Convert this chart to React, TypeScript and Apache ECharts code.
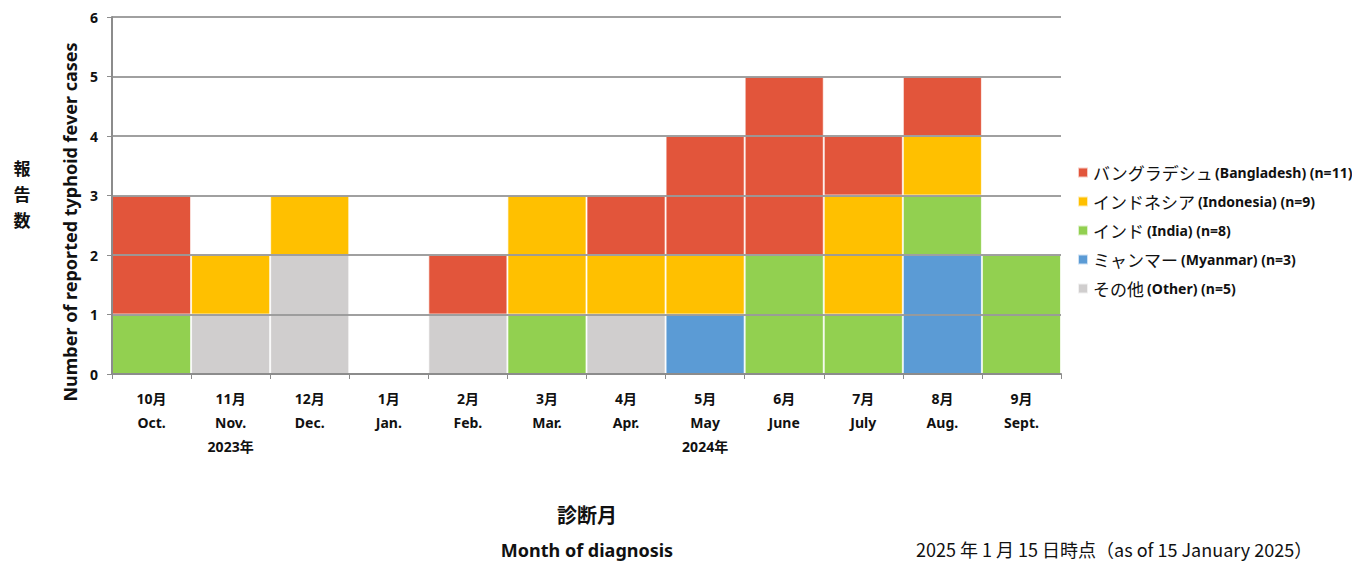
import React, { useEffect, useRef } from "react";
import * as echarts from "echarts";

const monthsJa = ["10月", "11月", "12月", "1月", "2月", "3月", "4月", "5月", "6月", "7月", "8月", "9月"];
const monthsEn = ["Oct.", "Nov.", "Dec.", "Jan.", "Feb.", "Mar.", "Apr.", "May", "June", "July", "Aug.", "Sept."];
const yearLabels = ["", "2023年", "", "", "", "", "", "2024年", "", "", "", ""];

const other = [0, 1, 2, 0, 1, 0, 1, 0, 0, 0, 0, 0];
const myanmar = [0, 0, 0, 0, 0, 0, 0, 1, 0, 0, 2, 0];
const india = [1, 0, 0, 0, 0, 1, 0, 0, 2, 1, 1, 2];
const indonesia = [0, 1, 1, 0, 0, 2, 1, 1, 0, 2, 1, 0];
const bangladesh = [2, 0, 0, 0, 1, 0, 1, 2, 3, 1, 1, 0];

const seriesDefs = [
  { ja: "その他", en: "(Other) (n=5)", data: other, color: "#D0CECE" },
  { ja: "ミャンマー", en: "(Myanmar) (n=3)", data: myanmar, color: "#5B9BD5" },
  { ja: "インド", en: "(India) (n=8)", data: india, color: "#92D050" },
  { ja: "インドネシア", en: "(Indonesia) (n=9)", data: indonesia, color: "#FFC000" },
  { ja: "バングラデシュ", en: "(Bangladesh) (n=11)", data: bangladesh, color: "#E2553B" },
];

const yTicks = [1, 2, 3, 4, 5, 6];
const yTitleJa = ["報", "告", "数"];

export default function App() {
  const ref = useRef<HTMLDivElement>(null);
  useEffect(() => {
    if (!ref.current) return;
    const chart = echarts.init(ref.current, null, { renderer: "svg" });
    const font = "'Noto Sans', 'Noto Sans CJK JP', sans-serif";
    const jpFont = "'Noto Sans CJK JP', sans-serif";
    const categories = monthsJa.map((m, i) => m + "\n" + monthsEn[i] + "\n" + yearLabels[i]);
    const nameMap: Record<string, { ja: string; en: string }> = {};
    seriesDefs.forEach((s) => (nameMap[s.ja + " " + s.en] = s));
    chart.setOption({
      animation: false,
      textStyle: { fontFamily: font },
      grid: { left: 112, right: 291, top: 17, bottom: 188, containLabel: false },
      legend: {
        orient: "vertical",
        left: 1072,
        top: 159,
        itemWidth: 10,
        itemHeight: 10,
        itemGap: 12,
        icon: "rect",
        data: seriesDefs.map((s) => s.ja + " " + s.en).reverse(),
        formatter: (name: string) => {
          const s = nameMap[name];
          return "{ja|" + s.ja + "} {en|" + s.en + "}";
        },
        textStyle: {
          rich: {
            ja: { fontSize: 17, color: "#111", fontFamily: jpFont, height: 19 },
            en: { fontSize: 14, fontWeight: "bold", color: "#111", fontFamily: font },
          },
        },
      },
      xAxis: {
        type: "category",
        data: categories,
        z: 5,
        axisLine: { lineStyle: { color: "#8c8c8c", width: 2 } },
        axisTick: { show: true, alignWithLabel: false, length: 5, lineStyle: { color: "#8c8c8c" } },
        axisLabel: {
          interval: 0,
          color: "#111",
          fontWeight: "bold",
          fontSize: 14,
          lineHeight: 24,
          margin: 12,
          fontFamily: font,
        },
      },
      yAxis: {
        type: "value",
        min: 0,
        max: 6,
        interval: 1,
        z: 5,
        axisLine: { show: true, lineStyle: { color: "#8c8c8c", width: 2 } },
        axisTick: { show: true, length: 5, lineStyle: { color: "#8c8c8c" } },
        splitLine: { show: true, lineStyle: { color: "#9a9a9a", width: 1.5 } },
        axisLabel: { color: "#111", fontWeight: "bold", fontSize: 14, margin: 14, fontFamily: font },
      },
      series: seriesDefs.map((s, idx) => ({
        name: s.ja + " " + s.en,
        type: "bar",
        stack: "total",
        data: s.data.map((v) => (v === 0 ? null : v)),
        barCategoryGap: "0%",
        itemStyle: { color: s.color, borderColor: "rgba(255,255,255,0.7)", borderWidth: 1 },
        markLine:
          idx === seriesDefs.length - 1
            ? {
                silent: true,
                symbol: "none",
                label: { show: false },
                lineStyle: { color: "#9a9a9a", width: 1.5, type: "solid" },
                data: yTicks.map((t) => ({ yAxis: t })),
              }
            : undefined,
      })),
      graphic: [
        ...yTitleJa.map((ch, i) => ({
          type: "text",
          x: 22,
          y: 167 + i * 26,
          style: {
            text: ch,
            fontSize: 17,
            lineHeight: 19,
            fontWeight: "bold",
            fill: "#111",
            fontFamily: jpFont,
            align: "center",
            verticalAlign: "middle",
          },
        })),
        {
          type: "text",
          x: 70,
          y: 222,
          rotation: Math.PI / 2,
          style: {
            text: "Number of reported typhoid fever cases",
            fontSize: 18,
            fontWeight: "bold",
            fill: "#111",
            fontFamily: font,
            align: "center",
            verticalAlign: "middle",
          },
        },
        {
          type: "text",
          x: 587,
          y: 514,
          style: {
            text: "診断月",
            fontSize: 20,
            fontWeight: "bold",
            fill: "#111",
            fontFamily: jpFont,
            align: "center",
            verticalAlign: "middle",
          },
        },
        {
          type: "text",
          x: 587,
          y: 550,
          style: {
            text: "Month of diagnosis",
            fontSize: 18,
            fontWeight: "bold",
            fill: "#111",
            fontFamily: font,
            align: "center",
            verticalAlign: "middle",
          },
        },
        {
          type: "text",
          x: 916,
          y: 549,
          style: {
            text: "2025 年 1 月 15 日時点（as of 15 January 2025）",
            fontSize: 18,
            lineHeight: 20,
            fill: "#111",
            fontFamily: jpFont,
            align: "left",
            verticalAlign: "middle",
          },
        },
      ],
    });
    return () => chart.dispose();
  }, []);
  return <div ref={ref} style={{ position: "absolute", left: 0, top: 0, width: 1352, height: 562 }} />;
}
